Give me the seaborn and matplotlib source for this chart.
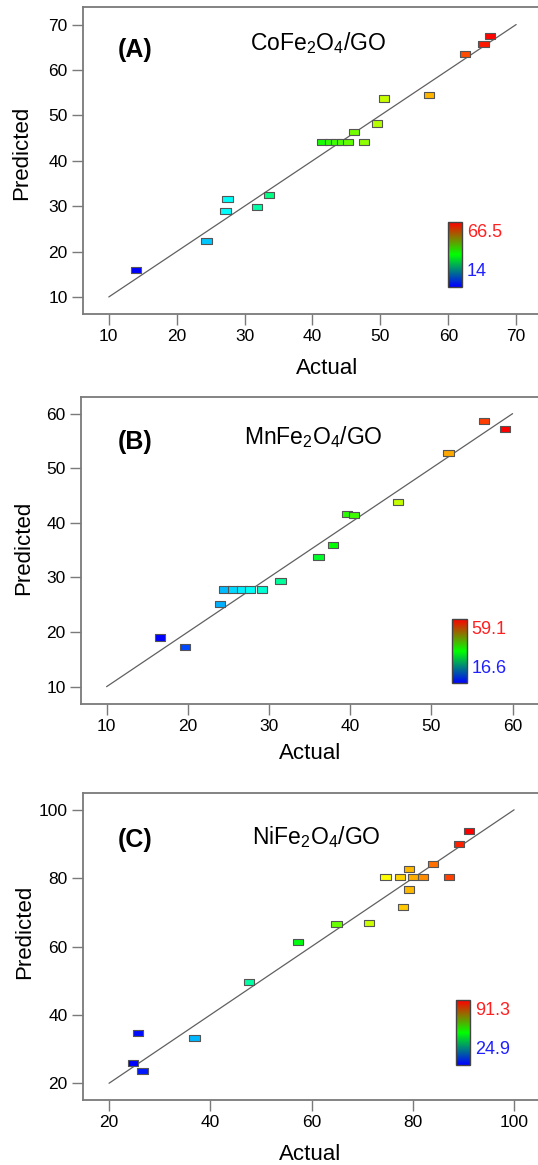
import numpy as np
import pandas as pd
import matplotlib
matplotlib.use("Agg")
import matplotlib.pyplot as plt
import seaborn as sns
from matplotlib.path import Path
from matplotlib.colors import LinearSegmentedColormap, Normalize
from matplotlib.cm import ScalarMappable

# ---------------- data ----------------
co_actual = [14.0, 24.4, 27.2, 27.5, 31.8, 33.6, 41.4, 42.6, 43.5, 44.3, 45.2,
             46.1, 47.6, 49.5, 50.5, 57.2, 62.5, 65.2, 66.2]
co_pred = [16.0, 22.3, 29.0, 31.6, 29.8, 32.4, 44.1, 44.1, 44.1, 44.1, 44.1,
           46.3, 44.1, 48.2, 53.7, 54.5, 63.5, 65.7, 67.5]
co_range = [14, 66.5]

mn_actual = [16.6, 19.7, 24.0, 24.5, 25.6, 26.7, 27.7, 29.1, 31.4, 36.1, 37.9,
             39.6, 40.5, 45.9, 52.1, 56.5, 59.1]
mn_pred = [19.0, 17.3, 25.1, 27.8, 27.8, 27.8, 27.8, 27.8, 29.3, 33.8, 36.0,
           41.6, 41.4, 43.8, 52.8, 58.7, 57.2]
mn_range = [16.6, 59.1]

ni_actual = [25.7, 24.7, 26.6, 36.9, 47.6, 57.3, 64.9, 71.3, 74.6, 77.5, 79.3,
             80.0, 82.0, 79.3, 78.1, 84.0, 87.1, 89.1, 91.1]
ni_pred = [34.6, 26.0, 23.5, 33.2, 49.7, 61.3, 66.6, 67.0, 80.4, 80.4, 82.6,
           80.4, 80.4, 76.7, 71.5, 84.2, 80.4, 90.0, 93.9]
ni_range = [24.9, 91.3]

panel_labels = ["(A)", "(B)", "(C)"]
titles = [r"CoFe$_2$O$_4$/GO", r"MnFe$_2$O$_4$/GO", r"NiFe$_2$O$_4$/GO"]
diag = [[10, 70], [10, 60], [20, 100]]
xticks = [[10, 20, 30, 40, 50, 60, 70], [10, 20, 30, 40, 50, 60], [20, 40, 60, 80, 100]]
yticks = [[10, 20, 30, 40, 50, 60, 70], [10, 20, 30, 40, 50, 60], [20, 40, 60, 80, 100]]

# ---------------- style ----------------
sns.set_theme(style="ticks")
plt.rcParams["font.family"] = ["Liberation Sans", "DejaVu Sans"]
plt.rcParams["mathtext.fontset"] = "custom"
plt.rcParams["mathtext.rm"] = "Liberation Sans"
plt.rcParams["mathtext.it"] = "Liberation Sans"
plt.rcParams["text.color"] = "black"
plt.rcParams["axes.labelcolor"] = "black"

W, H = 538, 1165
fig = plt.figure(figsize=(W / 100, H / 100), dpi=100)

def frac(l, t, r, b):
    return [l / W, (H - b) / H, (r - l) / W, (b - t) / H]

ax_px = [(83, 7.3, 545, 314.2), (81, 396.7, 545, 703.5), (82.7, 792.7, 545, 1100)]
xlims = [(6.2, 74.25), (6.85, 63.99), (14.8, 106.1)]
ylims = [(6.2, 73.8), (6.92, 63.1), (15.1, 105.0)]
cb_px = [(447.7, 222.3, 461.7, 286.7), (452.3, 619, 466.7, 683.3), (455.7, 1000.3, 469.7, 1065)]
plab_px = [(135, 50), (135, 441.7), (135, 840)]
title_px = [(317.7, 43.3), (313.3, 436.7), (316.7, 836.7)]
xlab_px = [(326.8, 368.8), (310, 753.3), (310, 1155)]
ylab_px = [(21.7, 153), (23.3, 548.3), (25, 931.7)]

datasets = [(co_actual, co_pred, co_range), (mn_actual, mn_pred, mn_range),
            (ni_actual, ni_pred, ni_range)]

point_cmap = LinearSegmentedColormap.from_list(
    "de", ["#0000ff", "#00ffff", "#00ff00", "#ffff00", "#ff0000"])
bar_cmap = LinearSegmentedColormap.from_list("bar", ["#0000ff", "#00ff00", "#ff0000"])

rect = Path([(-1, -0.6), (1, -0.6), (1, 0.6), (-1, 0.6), (-1, -0.6)],
            [Path.MOVETO, Path.LINETO, Path.LINETO, Path.LINETO, Path.CLOSEPOLY])

spine_col = "#7a7a7a"

for i, (act, pred, rng) in enumerate(datasets):
    ax = fig.add_axes(frac(*ax_px[i]))
    df = pd.DataFrame({"Actual": act, "Predicted": pred})
    ax.plot(diag[i], diag[i], color="#606060", lw=0.9, zorder=1)
    norm = Normalize(vmin=rng[0], vmax=rng[1])
    sns.scatterplot(data=df, x="Actual", y="Predicted", hue="Actual",
                    palette=point_cmap, hue_norm=norm, marker=rect, s=55,
                    edgecolor="#555555", linewidth=0.8, legend=False, ax=ax, zorder=3)
    ax.set_xlim(*xlims[i])
    ax.set_ylim(*ylims[i])
    ax.set_xticks(xticks[i])
    ax.set_yticks(yticks[i])
    ax.tick_params(axis="both", direction="out", length=8, width=1,
                   color=spine_col, labelsize=12.5, pad=3, labelcolor="black")
    for sp in ax.spines.values():
        sp.set_visible(True)
        sp.set_color(spine_col)
        sp.set_linewidth(1.3)
    ax.set_xlabel("Actual", fontsize=16, color="black", va="center")
    ax.set_ylabel("Predicted", fontsize=16, color="black", va="center")
    ax.xaxis.set_label_coords(xlab_px[i][0] / W, 1 - xlab_px[i][1] / H,
                              transform=fig.transFigure)
    ax.yaxis.set_label_coords(ylab_px[i][0] / W, 1 - ylab_px[i][1] / H,
                              transform=fig.transFigure)

    fig.text(plab_px[i][0] / W, 1 - plab_px[i][1] / H, panel_labels[i],
             fontsize=18, fontweight="bold", ha="center", va="center", color="black")
    fig.text(title_px[i][0] / W, 1 - title_px[i][1] / H, titles[i],
             fontsize=16.5, ha="center", va="center", color="black")

    # colour bar
    cax = fig.add_axes(frac(*cb_px[i]))
    sm = ScalarMappable(norm=norm, cmap=bar_cmap)
    cb = fig.colorbar(sm, cax=cax)
    cb.set_ticks([])
    cb.outline.set_edgecolor("#444444")
    cb.outline.set_linewidth(1.0)
    l, t, r, b = cb_px[i]
    fig.text((r + 5) / W, 1 - (t + 10) / H, f"{rng[1]:g}", color="#ff2020",
             fontsize=13, ha="left", va="center")
    fig.text((r + 5) / W, 1 - (b - 15) / H, f"{rng[0]:g}", color="#2020ff",
             fontsize=13, ha="left", va="center")

fig.savefig("out.png", dpi=100)
